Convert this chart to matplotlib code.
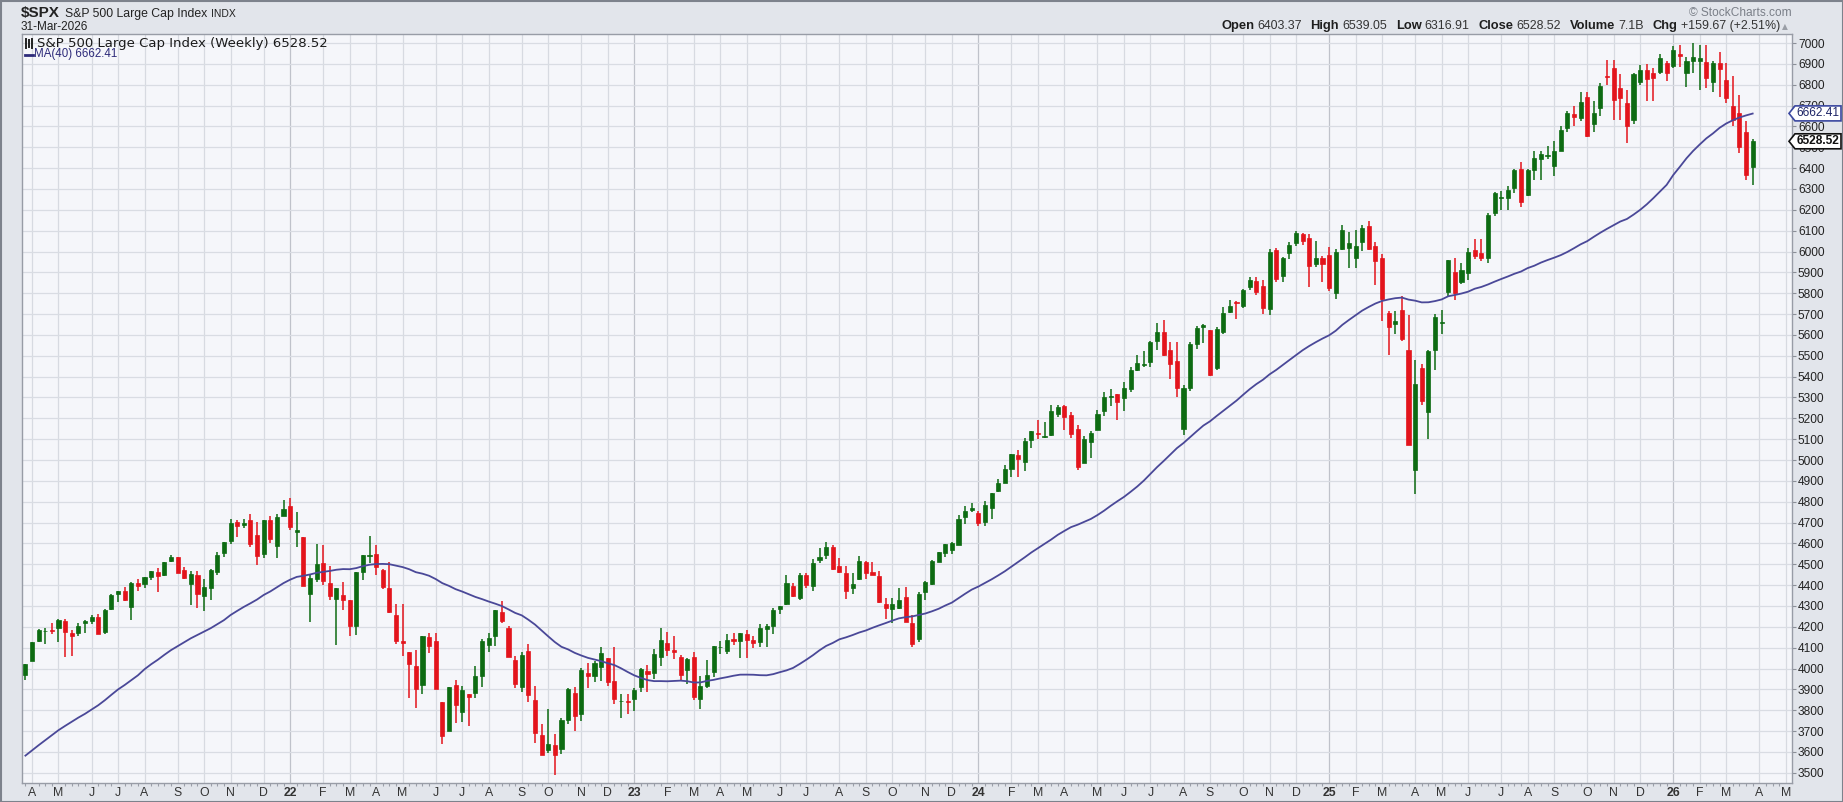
import matplotlib
matplotlib.use("Agg")
import matplotlib.pyplot as plt
import numpy as np
import pandas as pd
from matplotlib.patches import Polygon, Rectangle
from matplotlib.lines import Line2D

plt.rcParams['font.family'] = ['Liberation Sans', 'DejaVu Sans']

# weekly candles, first week starts Mon 29-Mar-2021, last week starts Mon 30-Mar-2026
start_week = '2021-03-29'

opens = [
    3969, 4034, 4130, 4179, 4185, 4192, 4228, 4169, 4168, 4216, 4229, 4248, 4173, 4284, 4356, 4372,
    4297, 4410, 4407, 4437, 4461, 4450, 4514, 4535, 4474, 4403, 4448, 4348, 4385, 4464, 4553, 4610,
    4701, 4689, 4712, 4640, 4548, 4710, 4587, 4733,
    4778, 4655, 4632, 4356, 4431, 4505, 4412, 4332, 4354, 4327, 4202, 4462, 4541, 4547, 4474, 4385,
    4255, 4130, 4081, 4013, 3920, 4151, 4134, 3838, 3701, 3920, 3792, 3880, 3883, 3965, 4113, 4155,
    4270, 4195, 4041, 3910, 4084, 3849, 3682, 3610, 3635, 3612, 3754, 3881, 3780, 3978, 3966, 4006,
    4052, 3940, 3843, 3843,
    3853, 3910, 3989, 3979, 4055, 4120, 4087, 4053, 3992, 4055, 3853, 3917, 3982, 4102, 4085, 4140,
    4134, 4166, 4136, 4126, 4190, 4204, 4283, 4308, 4396, 4337, 4450, 4394, 4521, 4543, 4585, 4491,
    4459, 4386, 4427, 4510, 4463, 4445, 4310, 4284, 4289, 4342, 4218, 4140, 4365, 4406, 4511, 4555,
    4569, 4593, 4725, 4758,
    4745, 4703, 4772, 4853, 4892, 4957, 5026, 4990, 5094, 5131, 5111, 5120, 5220, 5257, 5218, 5150,
    4988, 5084, 5143, 5233, 5305, 5315, 5297, 5341, 5432, 5460, 5471, 5572, 5615, 5528, 5476, 5151,
    5344, 5557, 5637, 5623, 5442, 5615, 5711, 5757, 5737, 5828, 5857, 5833, 5723, 6008, 5883, 5992,
    6040, 6084, 6063, 5940, 5969,
    5982, 5800, 6014, 6017, 5969, 6046, 6121, 6026, 5969, 5705, 5653, 5718, 5527, 4954, 5441, 5232,
    5529, 5655, 5807, 5902, 5854, 5896, 6005, 5992, 5969, 6187, 6259, 6255, 6304, 6397, 6271, 6389,
    6445, 6458, 6410, 6481, 6594, 6659, 6638, 6741, 6612, 6690, 6842, 6878, 6783, 6711, 6630, 6812,
    6870, 6858, 6860, 6902,
    6890, 6945, 6858, 6912, 6915, 6910, 6815, 6902, 6823, 6698, 6666, 6575, 6403.37,
]
highs = [
    4020, 4129, 4191, 4195, 4218, 4238, 4238, 4187, 4218, 4233, 4255, 4262, 4286, 4355, 4372, 4393,
    4415, 4430, 4440, 4468, 4480, 4513, 4546, 4536, 4486, 4466, 4466, 4429, 4475, 4560, 4608, 4718,
    4714, 4718, 4743, 4705, 4713, 4731, 4740, 4808,
    4819, 4749, 4632, 4453, 4595, 4590, 4490, 4385, 4416, 4327, 4465, 4546, 4637, 4593, 4475, 4513,
    4308, 4308, 4081, 4090, 4158, 4168, 4168, 3838, 3913, 3946, 3918, 3880, 4012, 4140, 4168, 4280,
    4325, 4203, 4062, 4077, 4119, 3914, 3736, 3807, 3685, 3762, 3905, 3912, 4001, 4028, 4034, 4101,
    4052, 4101, 3877, 3879,
    3906, 4003, 4015, 4094, 4195, 4176, 4156, 4063, 4048, 4079, 3965, 4040, 4110, 4133, 4164, 4170,
    4170, 4186, 4155, 4213, 4212, 4290, 4299, 4448, 4409, 4458, 4456, 4527, 4578, 4607, 4594, 4531,
    4490, 4458, 4541, 4514, 4511, 4466, 4338, 4339, 4385, 4393, 4256, 4366, 4422, 4521, 4560, 4595,
    4609, 4738, 4779, 4793,
    4755, 4802, 4842, 4907, 4975, 5030, 5048, 5105, 5137, 5190, 5180, 5265, 5265, 5264, 5229, 5168,
    5114, 5139, 5239, 5325, 5342, 5315, 5375, 5447, 5505, 5524, 5570, 5655, 5670, 5566, 5566, 5358,
    5566, 5643, 5651, 5623, 5636, 5734, 5767, 5765, 5819, 5879, 5878, 5862, 6012, 6018, 5972, 6045,
    6099, 6090, 6085, 6050, 5978,
    6021, 6014, 6128, 6093, 6101, 6128, 6147, 6044, 5986, 5715, 5715, 5786, 5695, 5481, 5459, 5528,
    5700, 5720, 5959, 5968, 5944, 6016, 6059, 6059, 6187, 6284, 6290, 6315, 6395, 6427, 6395, 6481,
    6480, 6508, 6532, 6600, 6672, 6699, 6766, 6765, 6720, 6808, 6920, 6918, 6850, 6775, 6855, 6895,
    6900, 6880, 6945, 6912,
    6986, 6990, 6935, 7002, 6990, 6990, 6912, 6955, 6903, 6842, 6751, 6625, 6539.05,
]
lows = [
    3944, 4034, 4125, 4118, 4164, 4127, 4057, 4062, 4155, 4168, 4213, 4165, 4167, 4282, 4321, 4323,
    4233, 4373, 4386, 4425, 4367, 4445, 4509, 4457, 4428, 4305, 4288, 4278, 4329, 4448, 4537, 4595,
    4630, 4672, 4585, 4495, 4532, 4600, 4531, 4733,
    4662, 4582, 4395, 4222, 4414, 4401, 4327, 4115, 4279, 4157, 4162, 4425, 4506, 4450, 4381, 4267,
    4118, 4062, 3859, 3811, 3876, 4074, 3900, 3637, 3701, 3738, 3743, 3722, 3859, 3913, 4080, 4107,
    4218, 4057, 3907, 3886, 3837, 3644, 3584, 3593, 3491, 3590, 3733, 3698, 3749, 3906, 3933, 3939,
    3918, 3828, 3764, 3784,
    3795, 3888, 3885, 3949, 4014, 4061, 4047, 3943, 3928, 3847, 3808, 3905, 3960, 4069, 4071, 4114,
    4049, 4048, 4099, 4103, 4103, 4166, 4260, 4304, 4341, 4328, 4385, 4372, 4506, 4527, 4474, 4457,
    4335, 4356, 4426, 4430, 4448, 4313, 4238, 4216, 4284, 4224, 4104, 4126, 4329, 4401, 4511, 4537,
    4547, 4592, 4695, 4751,
    4683, 4682, 4715, 4845, 4889, 4918, 4920, 4947, 5057, 5101, 5104, 5117, 5204, 5146, 5107, 4953,
    4985, 5012, 5142, 5212, 5257, 5191, 5235, 5325, 5428, 5448, 5445, 5528, 5497, 5390, 5302, 5119,
    5331, 5533, 5561, 5402, 5434, 5604, 5705, 5675, 5727, 5815, 5790, 5702, 5697, 5854, 5856, 5963,
    6026, 6030, 5832, 5925, 5855,
    5809, 5774, 6009, 5923, 5923, 6004, 6009, 5837, 5666, 5505, 5603, 5572, 5488, 4835, 5264, 5101,
    5434, 5602, 5786, 5768, 5843, 5862, 5963, 5953, 5943, 6171, 6201, 6201, 6281, 6212, 6265, 6344,
    6343, 6445, 6360, 6480, 6574, 6603, 6625, 6550, 6575, 6650, 6800, 6631, 6631, 6521, 6610, 6800,
    6720, 6720, 6850, 6820,
    6880, 6886, 6790, 6855, 6775, 6783, 6767, 6740, 6711, 6600, 6471, 6345, 6316.91,
]
closes = [
    4020, 4129, 4185, 4180, 4181, 4233, 4174, 4156, 4204, 4230, 4247, 4166, 4281, 4352, 4370, 4327,
    4412, 4395, 4437, 4468, 4442, 4509, 4535, 4459, 4433, 4455, 4357, 4391, 4471, 4545, 4605, 4697,
    4683, 4698, 4595, 4538, 4712, 4620, 4725, 4766,
    4677, 4663, 4398, 4432, 4501, 4419, 4349, 4385, 4329, 4204, 4463, 4543, 4546, 4488, 4392, 4272,
    4132, 4123, 4024, 3901, 4158, 4109, 3901, 3675, 3912, 3825, 3899, 3863, 3962, 4130, 4145, 4280,
    4228, 4057, 3924, 4067, 3873, 3693, 3586, 3640, 3583, 3752, 3901, 3771, 3993, 3965, 4026, 4072,
    3934, 3852, 3845, 3840,
    3895, 3999, 3973, 4071, 4136, 4090, 4079, 3970, 4046, 3862, 3917, 3971, 4109, 4105, 4138, 4133,
    4169, 4136, 4124, 4192, 4205, 4282, 4299, 4410, 4349, 4450, 4399, 4505, 4536, 4582, 4478, 4464,
    4370, 4406, 4516, 4457, 4450, 4320, 4288, 4309, 4327, 4224, 4117, 4358, 4415, 4514, 4559, 4595,
    4604, 4719, 4755, 4770,
    4697, 4784, 4840, 4891, 4959, 5027, 5006, 5089, 5137, 5124, 5117, 5234, 5254, 5204, 5123, 4967,
    5100, 5128, 5223, 5303, 5305, 5278, 5347, 5432, 5464, 5460, 5567, 5615, 5505, 5459, 5347, 5344,
    5554, 5634, 5648, 5408, 5626, 5703, 5738, 5751, 5815, 5865, 5808, 5729, 5996, 5870, 5969, 6032,
    6090, 6051, 5931, 5971, 5942,
    5827, 5997, 6101, 6041, 6026, 6115, 6013, 5955, 5770, 5639, 5668, 5581, 5074, 5363, 5283, 5525,
    5687, 5660, 5958, 5802, 5912, 6000, 5977, 5967, 6173, 6280, 6260, 6297, 6389, 6238, 6389, 6450,
    6467, 6460, 6482, 6584, 6664, 6644, 6716, 6553, 6664, 6792, 6840, 6728, 6734, 6603, 6849, 6870,
    6827, 6834, 6930, 6858,
    6966, 6940, 6912, 6935, 6930, 6832, 6906, 6874, 6737, 6630, 6503, 6368.85, 6528.52,
]
# weekly closes before the chart window (Jun-2020 .. Mar-2021), only feed the 40-week average
pre_closes = [
    3130, 3185, 3225, 3216, 3271, 3351, 3373, 3397, 3508, 3427, 3341, 3319, 3298, 3348, 3477, 3484,
    3465, 3270, 3510, 3585, 3558, 3638, 3699, 3663, 3709, 3703, 3756, 3825, 3768, 3841, 3714, 3887,
    3934, 3907, 3811, 3842, 3943, 3913, 3975,
]
y_ticks = list(range(3500, 7001, 100))
ma_period = 40
ma_last = 6662.41   # value printed by StockCharts for MA(40)
last_close = 6528.52

header_stats = [("Open", "6403.37"), ("High", "6539.05"), ("Low", "6316.91"),
                ("Close", "6528.52"), ("Volume", "7.1B"), ("Chg", "+159.67 (+2.51%)")]

W, H = 1843, 802
UP, DOWN = '#0d6b12', '#e3141c'
NAVY = '#4a4898'


def fx(px):
    return px / W


def fy(py):
    return 1 - py / H


fig = plt.figure(figsize=(W / 100, H / 100), dpi=100, facecolor='#e2e5eb')
fig.add_artist(Rectangle((0.5 / W, 0.5 / H), 1 - 1.0 / W, 1 - 1.0 / H, transform=fig.transFigure,
                         fill=False, edgecolor='#7d828c', lw=1.5))

ax = fig.add_axes([fx(21.7), fy(782.7), fx(1791.7) - fx(21.7), fy(34) - fy(782.7)])
ax.set_facecolor('#f5f6fa')

o = np.array(opens, float)
h = np.array(highs, float)
l = np.array(lows, float)
c = np.array(closes, float)
x = np.arange(len(c))
up = c >= o
col = np.where(up, UP, DOWN)

# candles
ax.vlines(x, l, h, colors=col, lw=1.1, zorder=3)
flat = np.abs(c - o) < 4
ax.bar(x, np.where(flat, 4, c - o), bottom=np.where(flat, (o + c) / 2 - 2, o), width=0.62,
       color=col, edgecolor=col, lw=0.5, zorder=4)

# 40-week moving average
ma = pd.Series(np.r_[pre_closes, c]).rolling(ma_period).mean().to_numpy()[len(pre_closes):]
ax.plot(x, ma, color=NAVY, lw=1.3, zorder=5)

# month ticks (weeks dated by Monday)
weeks = pd.date_range(start_week, periods=len(c) + 8, freq='W-MON')
tick_pos, tick_lbl, is_year = [], [], []
for i in range(1, len(weeks)):
    if weeks[i].month != weeks[i - 1].month:
        tick_pos.append(i)
        if weeks[i].month == 1:
            tick_lbl.append(f"{weeks[i].year % 100:02d}")
            is_year.append(True)
        else:
            tick_lbl.append(weeks[i].strftime('%b')[0])
            is_year.append(False)

ax.set_xlim(-0.56, 266.9)
ax.set_ylim(3452.3, 7043.2)

ax.set_xticks(tick_pos)
ax.set_xticklabels(tick_lbl)
for t, yr in zip(ax.get_xticklabels(), is_year):
    if yr:
        t.set_fontweight('bold')
        t.set_fontsize(10)
ax.set_xticks(np.arange(0, 267), minor=True)
ax.tick_params(axis='x', which='major', length=0, pad=3, labelsize=8.8, labelcolor='#333333')
ax.tick_params(axis='x', which='minor', length=2, color='#9a9ea8', width=0.8)

ax.yaxis.tick_right()
ax.set_yticks(y_ticks)
ax.tick_params(axis='y', length=3, pad=1.5, labelsize=8.6, labelcolor='#222222', color='#8a8e97')

for p, yr in zip(tick_pos, is_year):
    ax.axvline(p, color='#bfc2ca' if yr else '#d7dae1', lw=0.9, zorder=1)
for v in y_ticks:
    ax.axhline(v, color='#d9dce3', lw=0.9, zorder=1)

for s in ax.spines.values():
    s.set_color('#989ca6')
    s.set_linewidth(1.0)

renderer = fig.canvas.get_renderer()

# header, left side
fig.text(fx(21), fy(13), "$SPX", fontsize=11, fontweight='bold', color='#222222', va='center')
t = fig.text(fx(65), fy(13.5), "S&P 500 Large Cap Index", fontsize=8.8, color='#222222', va='center')
ix = 65 + t.get_window_extent(renderer).width + 4
fig.text(fx(ix), fy(14), "INDX", fontsize=7.5, color='#222222', va='center')
fig.text(fx(21), fy(27), "31-Mar-2026", fontsize=8.5, color='#222222', va='center')

# header, right side
fig.text(fx(1792), fy(12.7), "\u00a9 StockCharts.com", fontsize=8.6, color='#7a7f88',
         va='center', ha='right')

pieces = []
for lab, val in header_stats:
    pieces.append((lab, dict(fontsize=9.3, fontweight='bold', color='#1e1e1e'), 3))
    pieces.append((val, dict(fontsize=8.9, color='#333333'), 9))
widths = []
for s, kw, gap in pieces:
    tmp = fig.text(0, 0, s, **kw)
    widths.append(tmp.get_window_extent(renderer).width)
    tmp.remove()
total = sum(widths) + sum(g for _, _, g in pieces[:-1])
cur = 1780 - total
for (s, kw, gap), w in zip(pieces, widths):
    fig.text(fx(cur), fy(26), s, va='center', **kw)
    cur += w + gap
fig.text(fx(1781.5), fy(26.5), "\u25b2", fontsize=5.5, color='#9a9ea6', va='center',
         family=['DejaVu Sans'])

# legend inside the plot
for dx, (y0, y1) in zip([26, 29, 32], [(39, 48), (40, 47), (39, 48)]):
    fig.add_artist(Line2D([fx(dx), fx(dx)], [fy(y0), fy(y1)], color='#222222', lw=1.4))
fig.text(fx(37), fy(43.5), f"S&P 500 Large Cap Index (Weekly) {last_close:.2f}", fontsize=9.5,
         family=['DejaVu Sans'], color='#1a1a1a', va='center')
fig.add_artist(Line2D([fx(25), fx(33)], [fy(54.5), fy(54.5)], color='#2d2a7a', lw=2))
fig.text(fx(34), fy(54.5), f"MA(40) {ma_last:.2f}", fontsize=8.3, color='#2d2a7a', va='center')


# value flags on the price axis
def flag(v, text, edge, tcolor, weight):
    yd = ax.transData.transform((0, v))[1]
    yp = H - yd
    pts = [(1789, yp), (1795, yp - 7.5), (1841, yp - 7.5), (1841, yp + 7.5), (1795, yp + 7.5)]
    fig.add_artist(Polygon([(fx(a), fy(b)) for a, b in pts], closed=True, transform=fig.transFigure,
                           facecolor='white', edgecolor=edge, lw=1.2, zorder=10))
    fig.text(fx(1818), fy(yp), text, fontsize=8.6, color=tcolor, fontweight=weight,
             ha='center', va='center', zorder=11)


flag(ma_last, f"{ma_last:.2f}", '#3a47a0', '#1d2466', 'normal')
flag(last_close, f"{last_close:.2f}", '#111111', '#111111', 'bold')

fig.savefig('out.png', dpi=100, facecolor=fig.get_facecolor())
